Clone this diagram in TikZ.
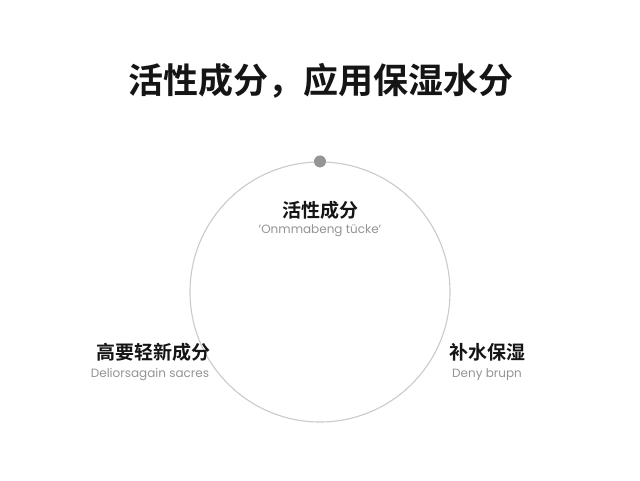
\documentclass[tikz,border=0pt]{standalone}
\usepackage{fontspec}
\setmainfont{Poppins}
\newfontfamily\cjk{Noto Sans CJK SC}
\newfontfamily\cjkbold{Noto Sans CJK SC Bold}
\usetikzlibrary{positioning}
\definecolor{ringgray}{HTML}{CBCBCB}
\definecolor{dotgray}{HTML}{959595}
\definecolor{subgray}{HTML}{949494}
\definecolor{inkblack}{HTML}{151515}
\tikzset{cnhead/.style={inkblack, font=\cjkbold\fontsize{19}{21}\selectfont, inner sep=0pt, anchor=center}}
\tikzset{cnsub/.style={subgray, font=\fontsize{12}{14}\selectfont, inner sep=0pt, anchor=center}}

\begin{document}
\begin{tikzpicture}[x=1pt, y=1pt, line join = round]
\useasboundingbox[fill=white] (0,0) rectangle (640,480);

\node[inkblack, font=\cjkbold\fontsize{35}{40}\selectfont, inner sep=0pt, anchor=center] (title) at (321, 399) {活性成分，应用保湿水分};

\node[draw=ringgray, line width=1.1pt, circle, minimum size=260pt, inner sep=0pt] (ring) at (320, 188) {};
\node[fill=dotgray, circle, minimum size=12pt, inner sep=0pt] (topdot) at (ring.north) {};

% top
\node[cnhead] (headtop) at (320, 270) {活性成分};
\node[cnsub] (subtop) at (320, 249) {'Onmmabeng tücke'};

% left
\node[cnhead] (headleft) at (153, 128) {高要轻新成分};
\node[cnsub] (subleft) at (150, 105) {Deliorsagain sacres};

% right
\node[cnhead] (headright) at (487, 128) {补水保湿};
\node[cnsub] (subright) at (487, 105) {Deny brupn};

\end{tikzpicture}
\end{document}
